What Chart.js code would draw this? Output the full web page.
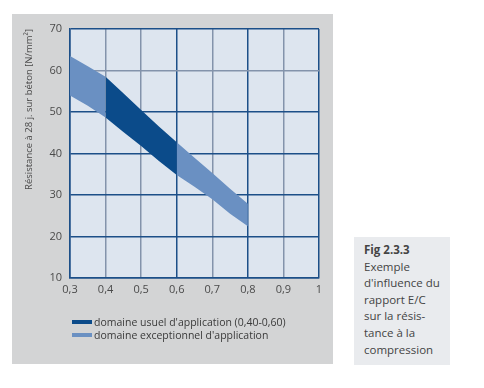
<!DOCTYPE html>
<html>
<head>
<meta charset="utf-8">
<script src="https://cdn.jsdelivr.net/npm/chart.js@4"></script>
<style>
  body { margin: 0; background: #fff; width: 484px; height: 388px; position: relative; overflow: hidden; }
  #panel { position: absolute; left: 12px; top: 14px; width: 321px; height: 350px; background: #d3d4d5; }
  #wrap { position: absolute; left: 0; top: 0; width: 484px; height: 388px; }
  .legend { position: absolute; left: 72px; font: 10.5px 'Open Sans', sans-serif; color: #3a3a3a; line-height: 14px; }
  .legend span { display: inline-block; width: 20px; height: 4px; vertical-align: middle; margin-right: 2px; position: relative; top: -1px; }
  #caption { position: absolute; left: 354px; top: 237px; width: 96px; height: 128px; background: #e9ebee;
             font: 11.5px 'Open Sans', sans-serif; color: #444; }
  #caption div { position: absolute; left: 10px; white-space: nowrap; }
</style>
</head>
<body>
<div id="panel"></div>
<div id="wrap"><canvas id="chart" width="484" height="388"></canvas></div>
<div class="legend" style="top:315px"><span style="background:#0b4b8a"></span>domaine usuel d'application (0,40-0,60)</div>
<div class="legend" style="top:328px"><span style="background:#6a90c2"></span>domaine exceptionnel d'application</div>
<div id="caption"></div>
<script>
// ── data ──
const wcRatio = [0.3, 0.35, 0.4, 0.45, 0.5, 0.55, 0.6, 0.65, 0.7, 0.75, 0.8];
const upperStrength = [63.5, 61, 58.5, 54.5, 50.5, 46.5, 42.7, 39, 35.3, 31.5, 27.9];
const lowerStrength = [54, 51.5, 48.7, 45.2, 41.8, 38.2, 34.8, 32, 29, 25.5, 22.5];
const xTickLabels = ['0,3', '0,4', '0,5', '0,6', '0,7', '0,8', '0,9', '1'];
const yTicks = [10, 20, 30, 40, 50, 60, 70];
const captionLines = ['Fig 2.3.3', 'Exemple', "d'influence du", 'rapport E/C', 'sur la résis-', 'tance à la', 'compression'];

const DARK = '#0b4b8a';
const LIGHT = '#6a90c2';
const GRID_DARK = '#1c4f88';
const GRID_GREY = '#8393ab';

// caption text
const cap = document.getElementById('caption');
captionLines.forEach((t, i) => {
  const d = document.createElement('div');
  d.textContent = t;
  d.style.top = (5 + i * 16.6) + 'px';
  if (i === 0) d.style.fontWeight = 'bold';
  cap.appendChild(d);
});

function pts(arr, from, to) {
  const out = [];
  for (let i = from; i <= to; i++) out.push({ x: wcRatio[i], y: arr[i] });
  return out;
}

// three band segments: light 0.3-0.4, dark 0.4-0.6, light 0.6-0.8
const segments = [[0, 2, LIGHT], [2, 6, DARK], [6, 10, LIGHT]];
const datasets = [];
segments.forEach(([a, b, col]) => {
  datasets.push({ data: pts(upperStrength, a, b), fill: '+1', backgroundColor: col, borderWidth: 0, pointRadius: 0 });
  datasets.push({ data: pts(lowerStrength, a, b), fill: false, borderWidth: 0, pointRadius: 0 });
});

const plotBg = {
  id: 'plotBg',
  beforeDraw(chart) {
    const { ctx, chartArea: { left, top, width, height } } = chart;
    ctx.save();
    ctx.fillStyle = '#dde5ef';
    ctx.fillRect(left, top, width, height);
    ctx.restore();
  }
};

function xGridColor(c) {
  const v = Math.round(c.tick.value * 10);
  return (v === 6 || v === 8 || v === 10 || v === 3) ? GRID_DARK : GRID_GREY;
}
function yGridColor(c) {
  return c.tick.value === 60 ? GRID_GREY : GRID_DARK;
}

new Chart(document.getElementById('chart'), {
  type: 'line',
  data: { datasets: datasets },
  options: {
    responsive: false,
    animation: false,
    layout: { padding: { left: 0, top: 29, right: 165, bottom: 90 } },
    plugins: { legend: { display: false }, tooltip: { enabled: false } },
    elements: { line: { tension: 0 } },
    scales: {
      x: {
        type: 'linear', min: 0.3, max: 1,
        afterFit: (s) => { s.height = 20; },
        ticks: {
          stepSize: 0.1, padding: 5, color: '#4a4a4a',
          font: { family: "'Open Sans', sans-serif", size: 11 },
          callback: (v, i) => xTickLabels[i]
        },
        grid: { color: xGridColor, lineWidth: 1.5, drawTicks: false },
        border: { color: GRID_DARK, width: 1.5 }
      },
      y: {
        min: 10, max: 70,
        afterFit: (s) => { s.width = 70; },
        afterBuildTicks: (s) => { s.ticks = yTicks.map(v => ({ value: v })); },
        ticks: {
          padding: 8, color: '#4a4a4a',
          font: { family: "'Open Sans', sans-serif", size: 11 }
        },
        grid: { color: yGridColor, lineWidth: 1.5, drawTicks: false },
        border: { color: GRID_DARK, width: 1.5 },
        title: {
          display: true, text: 'Résistance à 28 j. sur béton [N/mm²]', align: 'end',
          color: '#4a4a4a', padding: { top: 24, bottom: 0 },
          font: { family: "'Open Sans', sans-serif", size: 9.5 }
        }
      }
    }
  },
  plugins: [plotBg]
});
</script>
</body>
</html>
